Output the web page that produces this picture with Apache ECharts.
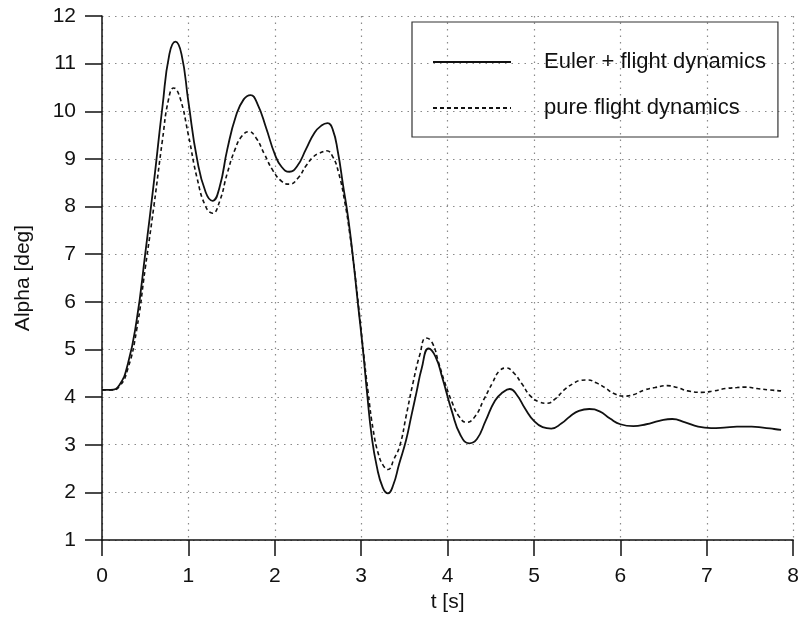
<!DOCTYPE html>
<html>
<head>
<meta charset="utf-8">
<script src="https://cdn.jsdelivr.net/npm/echarts@6/dist/echarts.min.js"></script>
<style>
  html, body { margin: 0; padding: 0; background: #fff; }
  #chart { width: 802px; height: 621px; }
</style>
</head>
<body>
<div id="chart"></div>
<script>
// Euler + flight dynamics (solid)
const eulerT = [0.00, 0.10, 0.20, 0.30, 0.40, 0.50, 0.60, 0.70, 0.78, 0.85, 0.92, 1.00, 1.10, 1.20, 1.28, 1.36, 1.45, 1.55, 1.64, 1.72,
  1.80, 1.90, 2.00, 2.08, 2.17, 2.26, 2.36, 2.46, 2.54, 2.61, 2.67, 2.73, 2.79, 2.85, 2.91, 2.96, 3.02, 3.07, 3.12, 3.18, 3.25,
  3.31, 3.37, 3.44, 3.52, 3.58, 3.64, 3.70, 3.78, 3.86, 3.94, 4.05, 4.15, 4.25, 4.34, 4.44, 4.55, 4.64, 4.72, 4.80, 4.90,
  5.00, 5.10, 5.20, 5.32, 5.42, 5.52, 5.64, 5.76, 5.88, 6.00, 6.15, 6.30, 6.45, 6.60, 6.75, 6.90, 7.05, 7.20, 7.35, 7.52,
  7.65, 7.78, 7.86];
const eulerAlpha = [4.15, 4.15, 4.25, 4.7, 5.6, 7.0, 8.5, 10.1, 11.2, 11.46, 11.2, 10.2, 9.0, 8.3, 8.12, 8.4, 9.2, 9.9, 10.25, 10.34,
  10.15, 9.65, 9.1, 8.83, 8.73, 8.85, 9.2, 9.55, 9.7, 9.75, 9.62, 9.15, 8.45, 7.75, 6.85, 6.0, 5.0, 4.05, 3.2, 2.55, 2.1,
  1.98, 2.15, 2.6, 3.1, 3.6, 4.1, 4.6, 5.02, 4.85, 4.4, 3.7, 3.2, 3.03, 3.12, 3.5, 3.93, 4.1, 4.17, 4.05, 3.75,
  3.5, 3.37, 3.34, 3.45, 3.6, 3.71, 3.75, 3.7, 3.55, 3.43, 3.39, 3.43, 3.5, 3.54, 3.47, 3.38, 3.35, 3.36, 3.38, 3.38,
  3.36, 3.33, 3.31];

// pure flight dynamics (dashed)
const pureT = [0.00, 0.10, 0.20, 0.30, 0.40, 0.50, 0.60, 0.70, 0.77, 0.83, 0.90, 1.00, 1.10, 1.20, 1.28, 1.36, 1.45, 1.54, 1.62, 1.70,
  1.78, 1.88, 1.98, 2.08, 2.17, 2.27, 2.36, 2.45, 2.52, 2.60, 2.67, 2.74, 2.81, 2.87, 2.92, 2.97, 3.02, 3.08, 3.14, 3.20, 3.26,
  3.31, 3.38, 3.45, 3.52, 3.60, 3.68, 3.75, 3.82, 3.90, 3.96, 4.05, 4.13, 4.22, 4.32, 4.42, 4.52, 4.60, 4.68, 4.76, 4.86,
  4.96, 5.06, 5.15, 5.25, 5.35, 5.45, 5.54, 5.62, 5.72, 5.82, 5.92, 6.04, 6.15, 6.28, 6.40, 6.54, 6.66, 6.78, 6.94, 7.08,
  7.22, 7.35, 7.45, 7.58, 7.72, 7.86];
const pureAlpha = [4.15, 4.15, 4.22, 4.6, 5.4, 6.7, 8.0, 9.4, 10.25, 10.49, 10.3, 9.5, 8.6, 8.0, 7.86, 8.1, 8.7, 9.2, 9.48, 9.57,
  9.45, 9.1, 8.75, 8.53, 8.47, 8.6, 8.85, 9.05, 9.12, 9.17, 9.05, 8.7, 8.1, 7.4, 6.7, 5.9, 5.05, 4.1, 3.3, 2.8, 2.55,
  2.48, 2.7, 3.0, 3.6, 4.3, 4.9, 5.24, 5.15, 4.7, 4.35, 3.9, 3.6, 3.47, 3.6, 3.95, 4.3, 4.55, 4.61, 4.52, 4.28,
  4.02, 3.9, 3.87, 3.97, 4.15, 4.28, 4.35, 4.36, 4.3, 4.2, 4.08, 4.02, 4.05, 4.15, 4.2, 4.24, 4.2, 4.13, 4.1, 4.13,
  4.18, 4.2, 4.21, 4.18, 4.15, 4.13];

const xTicks = [0, 1, 2, 3, 4, 5, 6, 7, 8];
const yTicks = [1, 2, 3, 4, 5, 6, 7, 8, 9, 10, 11, 12];

const font = 'Liberation Sans, Arial, sans-serif';
const chart = echarts.init(document.getElementById('chart'));

const gridLine = { show: true, lineStyle: { color: '#8a8a8a', width: 1.2, type: [1.5, 5] } };

chart.setOption({
  backgroundColor: '#fff',
  animation: false,
  grid: { left: 102, right: 6, top: 16, bottom: 81 },
  legend: {
    orient: 'vertical',
    left: 412,
    top: 22,
    padding: [29, 12, 18, 20],
    itemGap: 24,
    itemWidth: 78,
    itemHeight: 14,
    borderColor: '#333',
    borderWidth: 1.2,
    itemStyle: { opacity: 0 },
    textStyle: { fontFamily: font, fontSize: 22, color: '#111', padding: [0, 0, 0, 28] },
    data: ['Euler + flight dynamics', 'pure flight dynamics']
  },
  xAxis: {
    type: 'value',
    min: xTicks[0],
    max: xTicks[xTicks.length - 1],
    interval: 1,
    name: 't [s]',
    nameLocation: 'middle',
    nameGap: 52,
    nameTextStyle: { fontFamily: font, fontSize: 21, color: '#111' },
    axisLine: { show: true, onZero: false, lineStyle: { color: '#111', width: 1.5 } },
    axisTick: { show: true, inside: false, length: 16, lineStyle: { color: '#111', width: 1.5 } },
    axisLabel: { fontFamily: font, fontSize: 21, color: '#111', margin: 26 },
    splitLine: gridLine
  },
  yAxis: {
    type: 'value',
    min: yTicks[0],
    max: yTicks[yTicks.length - 1],
    interval: 1,
    name: 'Alpha [deg]',
    nameLocation: 'middle',
    nameRotate: 90,
    nameGap: 68,
    nameTextStyle: { fontFamily: font, fontSize: 21, color: '#111' },
    axisLine: { show: true, onZero: false, lineStyle: { color: '#111', width: 1.5 } },
    axisTick: { show: true, inside: false, length: 17, lineStyle: { color: '#111', width: 1.5 } },
    axisLabel: { fontFamily: font, fontSize: 21, color: '#111', margin: 26 },
    splitLine: gridLine
  },
  series: [
    {
      name: 'Euler + flight dynamics',
      type: 'line',
      data: eulerT.map((t, i) => [t, eulerAlpha[i]]),
      symbol: 'none',
      smooth: 0.5,
      lineStyle: { color: '#111', width: 1.8, type: 'solid' },
      itemStyle: { color: '#111' }
    },
    {
      name: 'pure flight dynamics',
      type: 'line',
      data: pureT.map((t, i) => [t, pureAlpha[i]]),
      symbol: 'none',
      smooth: 0.5,
      lineStyle: { color: '#111', width: 1.6, type: [4, 3] },
      itemStyle: { color: '#111' }
    }
  ]
});
</script>
</body>
</html>
